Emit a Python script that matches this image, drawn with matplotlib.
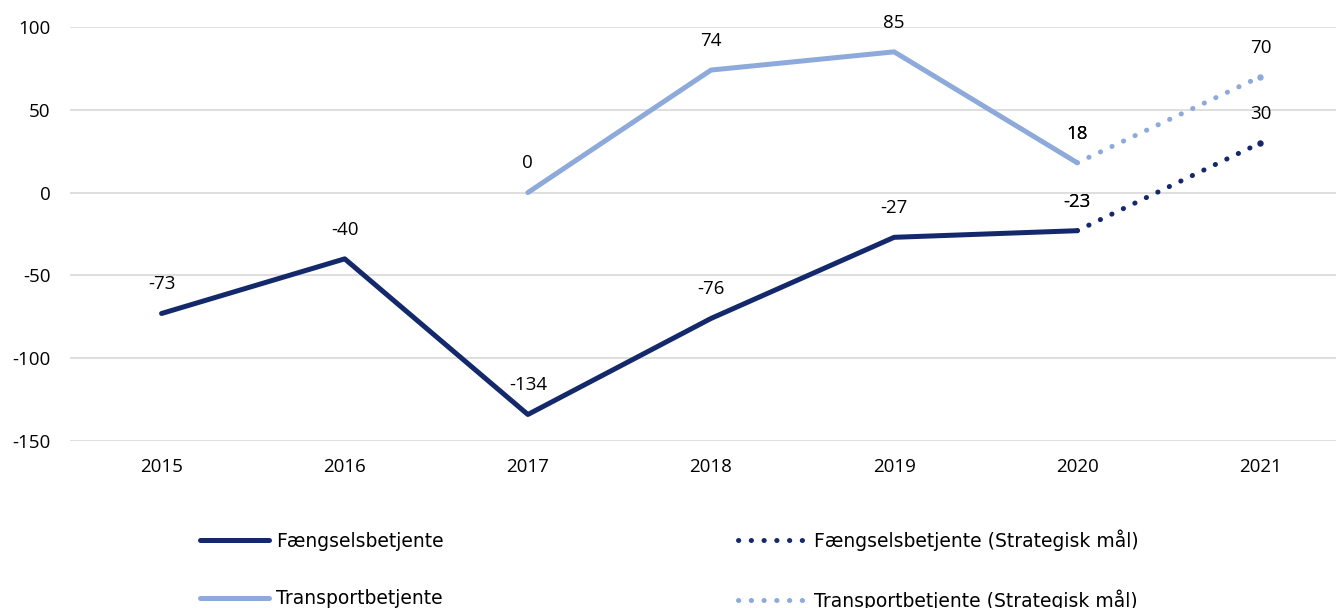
import numpy as np
import matplotlib
matplotlib.use("Agg")
import matplotlib.pyplot as plt

# Data
years = ["2015", "2016", "2017", "2018", "2019", "2020", "2021"]
faengsel = [-73, -40, -134, -76, -27, -23, np.nan]
faengsel_maal = [np.nan, np.nan, np.nan, np.nan, np.nan, -23, 30]
transport = [np.nan, np.nan, 0, 74, 85, 18, np.nan]
transport_maal = [np.nan, np.nan, np.nan, np.nan, np.nan, 18, 70]

dark = "#14296B"
light = "#8EAADB"

plt.rcParams['font.family'] = ['Open Sans', 'DejaVu Sans']
plt.rcParams['axes.unicode_minus'] = False

fig = plt.figure(figsize=(13.36, 6.08), dpi=100)
ax = fig.add_axes([70 / 1336, 1 - 441 / 608, 1282 / 1336, 414 / 608])

x = np.arange(len(years))
dot_style = (0, (0.05, 2.5))

ax.plot(x, faengsel, color=dark, lw=3.6, solid_capstyle="round",
        label="Fængselsbetjente")
ax.plot(x, transport, color=light, lw=3.6, solid_capstyle="round",
        label="Transportbetjente")
ax.plot(x, faengsel_maal, color=dark, lw=3.6, linestyle=dot_style,
        dash_capstyle="round", label="Fængselsbetjente (Strategisk mål)")
ax.plot(x, transport_maal, color=light, lw=3.6, linestyle=dot_style,
        dash_capstyle="round", label="Transportbetjente (Strategisk mål)")

# closing dot at the end of each target line
for series, col in [(faengsel_maal, dark), (transport_maal, light)]:
    ax.plot(x[-1:], np.array(series)[-1:], "o", color=col, markersize=3.6)

# Data labels above points
for series in [faengsel, transport, faengsel_maal, transport_maal]:
    for xi, v in zip(x, series):
        if np.isnan(v):
            continue
        ax.annotate(f"{v:.0f}", (xi, v), xytext=(0, 21), textcoords="offset points",
                    ha="center", va="center", fontsize=13.5, color="#000000")

ax.set_xlim(-0.5, len(years) - 0.5)
ax.set_ylim(-150, 100)
ax.set_yticks([-150, -100, -50, 0, 50, 100])
ax.set_xticks(x)
ax.set_xticklabels(years)
ax.tick_params(axis="both", length=0, labelsize=13.5, colors="#000000")
ax.tick_params(axis="y", pad=14)
ax.tick_params(axis="x", pad=12)
ax.grid(axis="y", color="#D9D9D9", lw=1.2)
ax.set_axisbelow(True)
for s in ax.spines.values():
    s.set_visible(False)

handles, labels = ax.get_legend_handles_labels()
fig.legend(handles[:4], labels[:4], loc="center left",
           bbox_to_anchor=(183 / 1336, 1 - 570 / 608), ncol=2,
           frameon=False, prop={'family': 'DejaVu Sans', 'size': 13.5},
           handlelength=3.7, handletextpad=0.37, columnspacing=15.7,
           labelspacing=2.04)

fig.savefig("out.png", dpi=100)
